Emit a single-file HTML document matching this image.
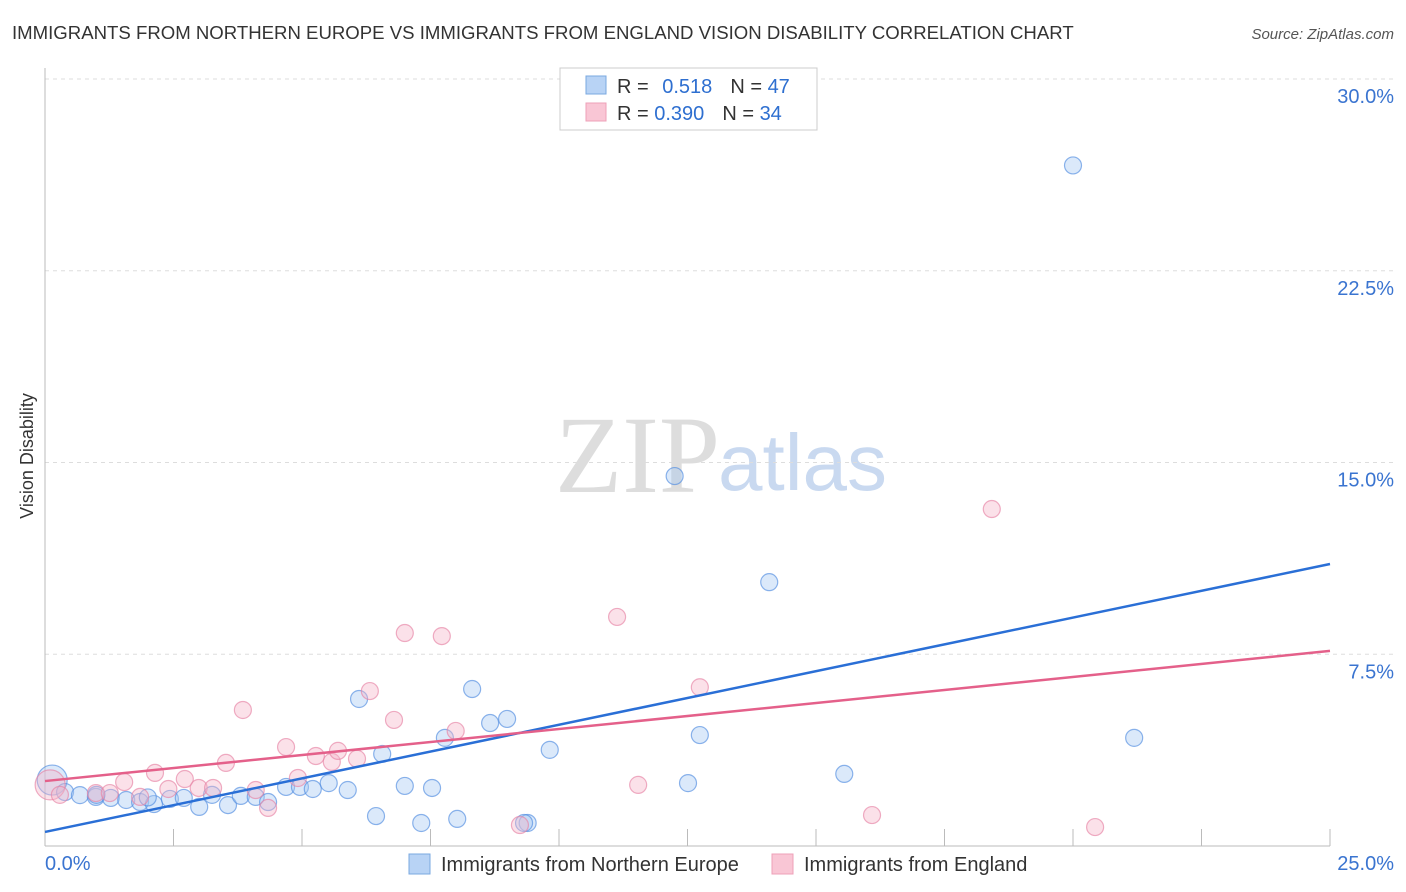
<!DOCTYPE html>
<html><head><meta charset="utf-8"><style>
body{margin:0;background:#fff;font-family:"Liberation Sans",sans-serif;}
#wrap{position:relative;width:1406px;height:892px;overflow:hidden}
</style></head><body><div id="wrap">
<svg id="svg" width="1406" height="892" xmlns="http://www.w3.org/2000/svg">
<text x="12" y="39" font-size="18.6" fill="#333">IMMIGRANTS FROM NORTHERN EUROPE VS IMMIGRANTS FROM ENGLAND VISION DISABILITY CORRELATION CHART</text>
<text x="1394" y="39" font-size="15" fill="#555" text-anchor="end" font-style="italic">Source: ZipAtlas.com</text>
<text x="33" y="456" font-size="18" fill="#333" text-anchor="middle" transform="rotate(-90 33 456)">Vision Disability</text>
<text x="555" y="492" font-size="110" fill="#ddd" font-family="Liberation Serif,serif">ZIP</text>
<text x="718" y="490" font-size="80" fill="#c9d9f0">atlas</text>
<g id="grid"></g><g id="pts"></g><g id="lines"></g>
<g>
<rect x="560" y="68" width="257" height="62" fill="#fff" stroke="#ccc"/>
<rect x="586" y="76" width="20" height="18" fill="#b8d3f5" stroke="#7aa8e0"/>
<rect x="586" y="103" width="20" height="18" fill="#f9c6d5" stroke="#eea0b8"/>
<text x="617" y="93" font-size="20" fill="#333">R = <tspan fill="#2e6fd0" dx="8">0.518</tspan><tspan dx="18" fill="#333">N = </tspan><tspan fill="#2e6fd0">47</tspan></text>
<text x="617" y="120" font-size="20" fill="#333">R = <tspan fill="#2e6fd0">0.390</tspan><tspan dx="18" fill="#333">N = </tspan><tspan fill="#2e6fd0">34</tspan></text>
</g>
<g>
<rect x="409" y="854" width="21" height="20" fill="#b8d3f5" stroke="#7aa8e0"/>
<text x="441" y="871" font-size="20" fill="#333">Immigrants from Northern Europe</text>
<rect x="772" y="854" width="21" height="20" fill="#f9c6d5" stroke="#eea0b8"/>
<text x="804" y="871" font-size="20" fill="#333">Immigrants from England</text>
</g>
</svg></div>
<script>
const xTicks=[0,25];
const yTicks=[7.5,15,22.5,30];
const blueX=[0.14,0.39,0.68,0.99,1.28,1.58,1.85,2.12,2.43,2.7,3,3.25,3.56,3.81,4.1,4.34,4.69,4.96,5.21,5.52,5.89,6.11,6.44,6.56,7.0,7.32,7.53,7.78,8.02,8.31,8.66,8.99,9.39,9.82,12.25,12.51,12.74,14.09,15.55,20.0,21.19,9.32,1.0,2.0];
const blueY=[2.58,2.11,1.99,1.92,1.88,1.8,1.72,1.64,1.84,1.88,1.53,2.0,1.6,1.96,1.92,1.72,2.31,2.31,2.23,2.46,2.19,5.75,1.17,3.6,2.35,0.9,2.27,4.23,1.06,6.14,4.81,4.97,0.9,3.76,14.47,2.46,4.34,10.32,2.82,26.62,4.23,0.9,2.0,1.9];
const pinkX=[0.1,0.29,0.99,1.26,1.54,1.85,2.14,2.4,2.72,2.99,3.27,3.52,3.85,4.1,4.34,4.69,4.92,5.27,5.58,5.7,6.07,6.32,6.79,7.0,7.72,7.99,9.24,11.13,11.54,12.74,16.09,18.42,20.43];
const pinkY=[2.39,2.0,2.07,2.07,2.5,1.92,2.86,2.23,2.62,2.27,2.27,3.25,5.32,2.19,1.49,3.87,2.66,3.52,3.29,3.72,3.41,6.06,4.93,8.33,8.21,4.5,0.82,8.96,2.39,6.21,1.21,13.18,0.74];
const blueLine=[0.55,11.03], pinkLine=[2.54,7.63];
const NS='http://www.w3.org/2000/svg';
const X=v=>45+v/25*1285, Y=v=>846-v/30*767;
function mk(t,a,p){const e=document.createElementNS(NS,t);for(const k in a)e.setAttribute(k,a[k]);p.appendChild(e);return e;}
const g=document.getElementById('grid');
yTicks.forEach(t=>{const l=mk('line',{x1:45,x2:1394,y1:Y(t),y2:Y(t),stroke:'#ddd','stroke-dasharray':'4,4'},g);


const tx=mk('text',{x:1394,y:Y(t)+24,'font-size':20,fill:'#3a74d0','text-anchor':'end'},g);tx.textContent=t.toFixed(1)+'%';

});
mk('line',{x1:45,x2:45,y1:68,y2:846,stroke:'#bbb'},g);
mk('line',{x1:45,x2:1330,y1:846,y2:846,stroke:'#bbb'},g);
for(let i=1;i<=10;i++){mk('line',{x1:45+i*128.5,x2:45+i*128.5,y1:829,y2:846,stroke:'#bbb'},g);}
xTicks.forEach((t,i)=>{const tx=mk('text',{x:i?1394:45,y:870,'font-size':20,fill:'#3a74d0','text-anchor':i?'end':'start'},g);tx.textContent=t.toFixed(1)+'%';

});
const p=document.getElementById('pts');
blueX.forEach((v,i)=>{const c=mk('circle',{cx:X(v),cy:Y(blueY[i]),r:i==0?15:8.5,fill:'rgba(165,200,242,0.4)',stroke:'rgba(80,140,225,0.65)','stroke-width':1.2},p);

});
pinkX.forEach((v,i)=>{const c=mk('circle',{cx:X(v),cy:Y(pinkY[i]),r:i==0?15:8.5,fill:'rgba(245,180,200,0.4)',stroke:'rgba(230,130,165,0.65)','stroke-width':1.2},p);

});
const L=document.getElementById('lines');
const b=mk('line',{x1:X(0),y1:Y(blueLine[0]),x2:X(25),y2:Y(blueLine[1]),stroke:'#2a6fd6','stroke-width':2.5},L);


const pk=mk('line',{x1:X(0),y1:Y(pinkLine[0]),x2:X(25),y2:Y(pinkLine[1]),stroke:'#e4608a','stroke-width':2.5},L);


</script></body></html>
